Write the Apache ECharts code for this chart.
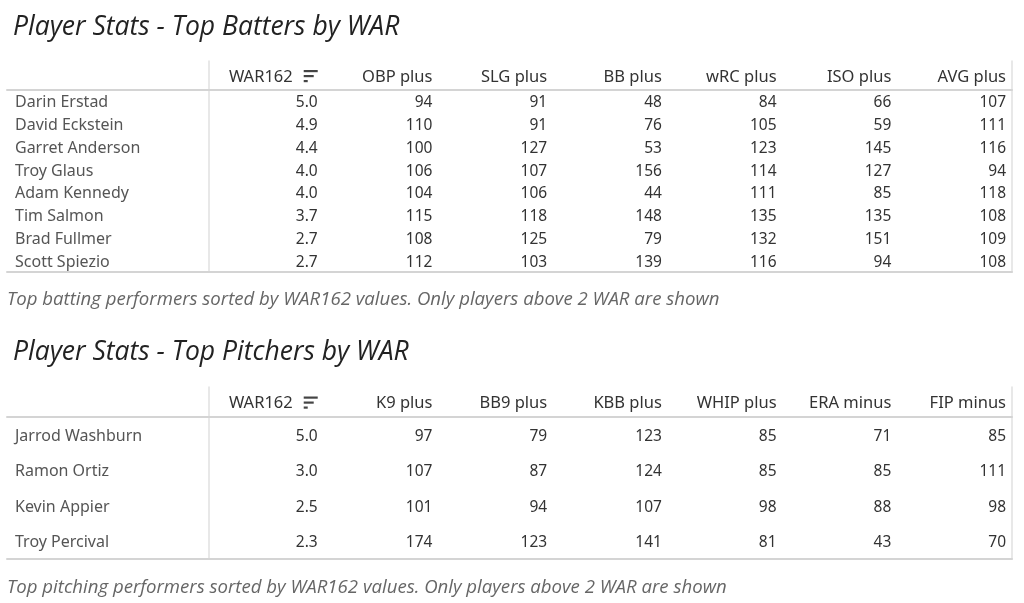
<!DOCTYPE html>
<html>
<head>
<meta charset="utf-8">
<script src="https://cdn.jsdelivr.net/npm/echarts@6/dist/echarts.min.js"></script>
<style>html,body{margin:0;padding:0;background:#fff}#c{width:1024px;height:603px}</style>
</head>
<body>
<div id="c"></div>
<script>
// ---- Data ----
const batColumns = ['WAR162', 'OBP plus', 'SLG plus', 'BB plus', 'wRC plus', 'ISO plus', 'AVG plus'];
const batters = ['Darin Erstad', 'David Eckstein', 'Garret Anderson', 'Troy Glaus', 'Adam Kennedy', 'Tim Salmon', 'Brad Fullmer', 'Scott Spiezio'];
const batWAR = [5.0, 4.9, 4.4, 4.0, 4.0, 3.7, 2.7, 2.7];
const batOBP = [94, 110, 100, 106, 104, 115, 108, 112];
const batSLG = [91, 91, 127, 107, 106, 118, 125, 103];
const batBB = [48, 76, 53, 156, 44, 148, 79, 139];
const batWRC = [84, 105, 123, 114, 111, 135, 132, 116];
const batISO = [66, 59, 145, 127, 85, 135, 151, 94];
const batAVG = [107, 111, 116, 94, 118, 108, 109, 108];

const pitColumns = ['WAR162', 'K9 plus', 'BB9 plus', 'KBB plus', 'WHIP plus', 'ERA minus', 'FIP minus'];
const pitchers = ['Jarrod Washburn', 'Ramon Ortiz', 'Kevin Appier', 'Troy Percival'];
const pitWAR = [5.0, 3.0, 2.5, 2.3];
const pitK9 = [97, 107, 101, 174];
const pitBB9 = [79, 87, 94, 123];
const pitKBB = [123, 124, 107, 141];
const pitWHIP = [85, 85, 98, 81];
const pitERA = [71, 85, 88, 43];
const pitFIP = [85, 111, 98, 70];

const batTitle = 'Player Stats - Top Batters by WAR';
const batNote = 'Top batting performers sorted by WAR162 values. Only players above 2 WAR are shown';
const pitTitle = 'Player Stats - Top Pitchers by WAR';
const pitNote = 'Top pitching performers sorted by WAR162 values. Only players above 2 WAR are shown';

// ---- Build ----
const FONT = '"Noto Sans", "Open Sans", sans-serif';
const HAND = '"Open Sans", "Noto Sans", sans-serif';
const hLine = { show: true, lineStyle: { color: '#d4d4d4', width: 2 } };
const vLine = { show: true, lineStyle: { color: '#e0e0e0', width: 1.5 } };
const noLine = { show: false };

function cellData(cols) {
  const d = [];
  cols.forEach((arr, ci) => arr.forEach((v, ri) => d.push([ci, ri, v])));
  return d;
}

const tables = [
  { cols: batColumns, rows: batters, values: [batWAR, batOBP, batSLG, batBB, batWRC, batISO, batAVG], headTop: 61, bodyTop: 90, bodyBottom: 272 },
  { cols: pitColumns, rows: pitchers, values: [pitWAR, pitK9, pitBB9, pitKBB, pitWHIP, pitERA, pitFIP], headTop: 387, bodyTop: 417, bodyBottom: 559 }
];

const grid = [], xAxis = [], yAxis = [], series = [];
const PAD = 6;
const DY = 1.5;

tables.forEach((t, ti) => {
  const g = grid.length;
  const bodyH = t.bodyBottom - t.bodyTop;
  grid.push({ left: 7, width: 202, top: t.bodyTop, height: bodyH });          // names
  grid.push({ left: 209, right: 12, top: t.bodyTop, height: bodyH });         // body
  grid.push({ left: 209, right: 12, top: t.headTop, height: t.bodyTop - t.headTop }); // header
  const xb = xAxis.length;
  const cat = (gi, data, pos, line) => ({ type: 'category', gridIndex: gi, data, position: pos, axisLine: line, axisTick: { show: false }, axisLabel: { show: false }, splitLine: { show: false } });
  xAxis.push(cat(g, [''], 'top', hLine));
  xAxis.push(cat(g, [''], 'bottom', hLine));
  xAxis.push(cat(g + 1, t.cols, 'top', hLine));
  xAxis.push(cat(g + 1, t.cols, 'bottom', hLine));
  xAxis.push(cat(g + 2, t.cols, 'bottom', noLine));
  const yb = yAxis.length;
  yAxis.push(Object.assign(cat(g, t.rows, 'left', noLine), { inverse: true }));
  yAxis.push(Object.assign(cat(g + 1, t.rows, 'left', vLine), { inverse: true }));
  yAxis.push(Object.assign(cat(g + 1, t.rows, 'right', vLine), { inverse: true }));
  yAxis.push(cat(g + 2, ['h'], 'left', vLine));
  yAxis.push(cat(g + 2, ['h'], 'right', vLine));

  const rows = t.rows;
  series.push({
    type: 'custom', xAxisIndex: xb, yAxisIndex: yb, data: rows.map((r, i) => [0, i]), silent: true,
    renderItem: function (params, api) {
      const c = api.coord([0, api.value(1)]);
      const s = api.size([1, 1]);
      return { type: 'text', x: c[0] - s[0] / 2 + 8, y: c[1] + DY,
        style: { text: rows[params.dataIndex], align: 'left', verticalAlign: 'middle', fill: '#555', fontSize: 16, fontFamily: FONT } };
    }
  });
  series.push({
    type: 'custom', xAxisIndex: xb + 2, yAxisIndex: yb + 1, data: cellData(t.values), silent: true,
    renderItem: function (params, api) {
      const ci = api.value(0), ri = api.value(1), v = api.value(2);
      const c = api.coord([ci, ri]);
      const s = api.size([1, 1]);
      return { type: 'text', x: c[0] + s[0] / 2 - PAD, y: c[1] + DY,
        style: { text: ci === 0 ? v.toFixed(1) : String(v), align: 'right', verticalAlign: 'middle', fill: '#333', fontSize: 15.5, fontFamily: FONT } };
    }
  });
  const heads = t.cols;
  series.push({
    type: 'custom', xAxisIndex: xb + 4, yAxisIndex: yb + 3, data: heads.map((h, i) => [i, 0]), silent: true,
    renderItem: function (params, api) {
      const ci = api.value(0);
      const c = api.coord([ci, 0]);
      const s = api.size([1, 1]);
      const right = c[0] + s[0] / 2 - PAD;
      const label = heads[params.dataIndex];
      const y = c[1] + DY;
      if (ci === 0) {
        return { type: 'group', children: [
          { type: 'text', x: right - 25, y: y, style: { text: label, align: 'right', verticalAlign: 'middle', fill: '#333', fontSize: 16.5, fontFamily: FONT } },
          { type: 'rect', shape: { x: right - 14, y: y - 7, width: 14, height: 2.2 }, style: { fill: '#444' } },
          { type: 'rect', shape: { x: right - 14, y: y - 2, width: 10, height: 2.2 }, style: { fill: '#444' } },
          { type: 'rect', shape: { x: right - 14, y: y + 3, width: 4, height: 2.2 }, style: { fill: '#444' } }
        ] };
      }
      return { type: 'text', x: right, y: y, style: { text: label, align: 'right', verticalAlign: 'middle', fill: '#333', fontSize: 16.5, fontFamily: FONT } };
    }
  });
});

const titleStyle = { fontFamily: HAND, fontSize: 26.5, fontStyle: 'italic', fontWeight: 'normal', color: '#222' };
const noteStyle = { fontFamily: HAND, fontSize: 18.6, fontStyle: 'italic', fontWeight: 'normal', color: '#666' };

const option = {
  animation: false,
  backgroundColor: '#fff',
  title: [
    { text: batTitle, left: 13, top: 14, padding: 0, textStyle: titleStyle },
    { text: batNote, left: 7, top: 290, padding: 0, textStyle: noteStyle },
    { text: pitTitle, left: 13, top: 339, padding: 0, textStyle: titleStyle },
    { text: pitNote, left: 7, top: 578, padding: 0, textStyle: noteStyle }
  ],
  grid, xAxis, yAxis, series
};
const chart = echarts.init(document.getElementById('c'));
chart.setOption(option);
</script>
</body>
</html>
